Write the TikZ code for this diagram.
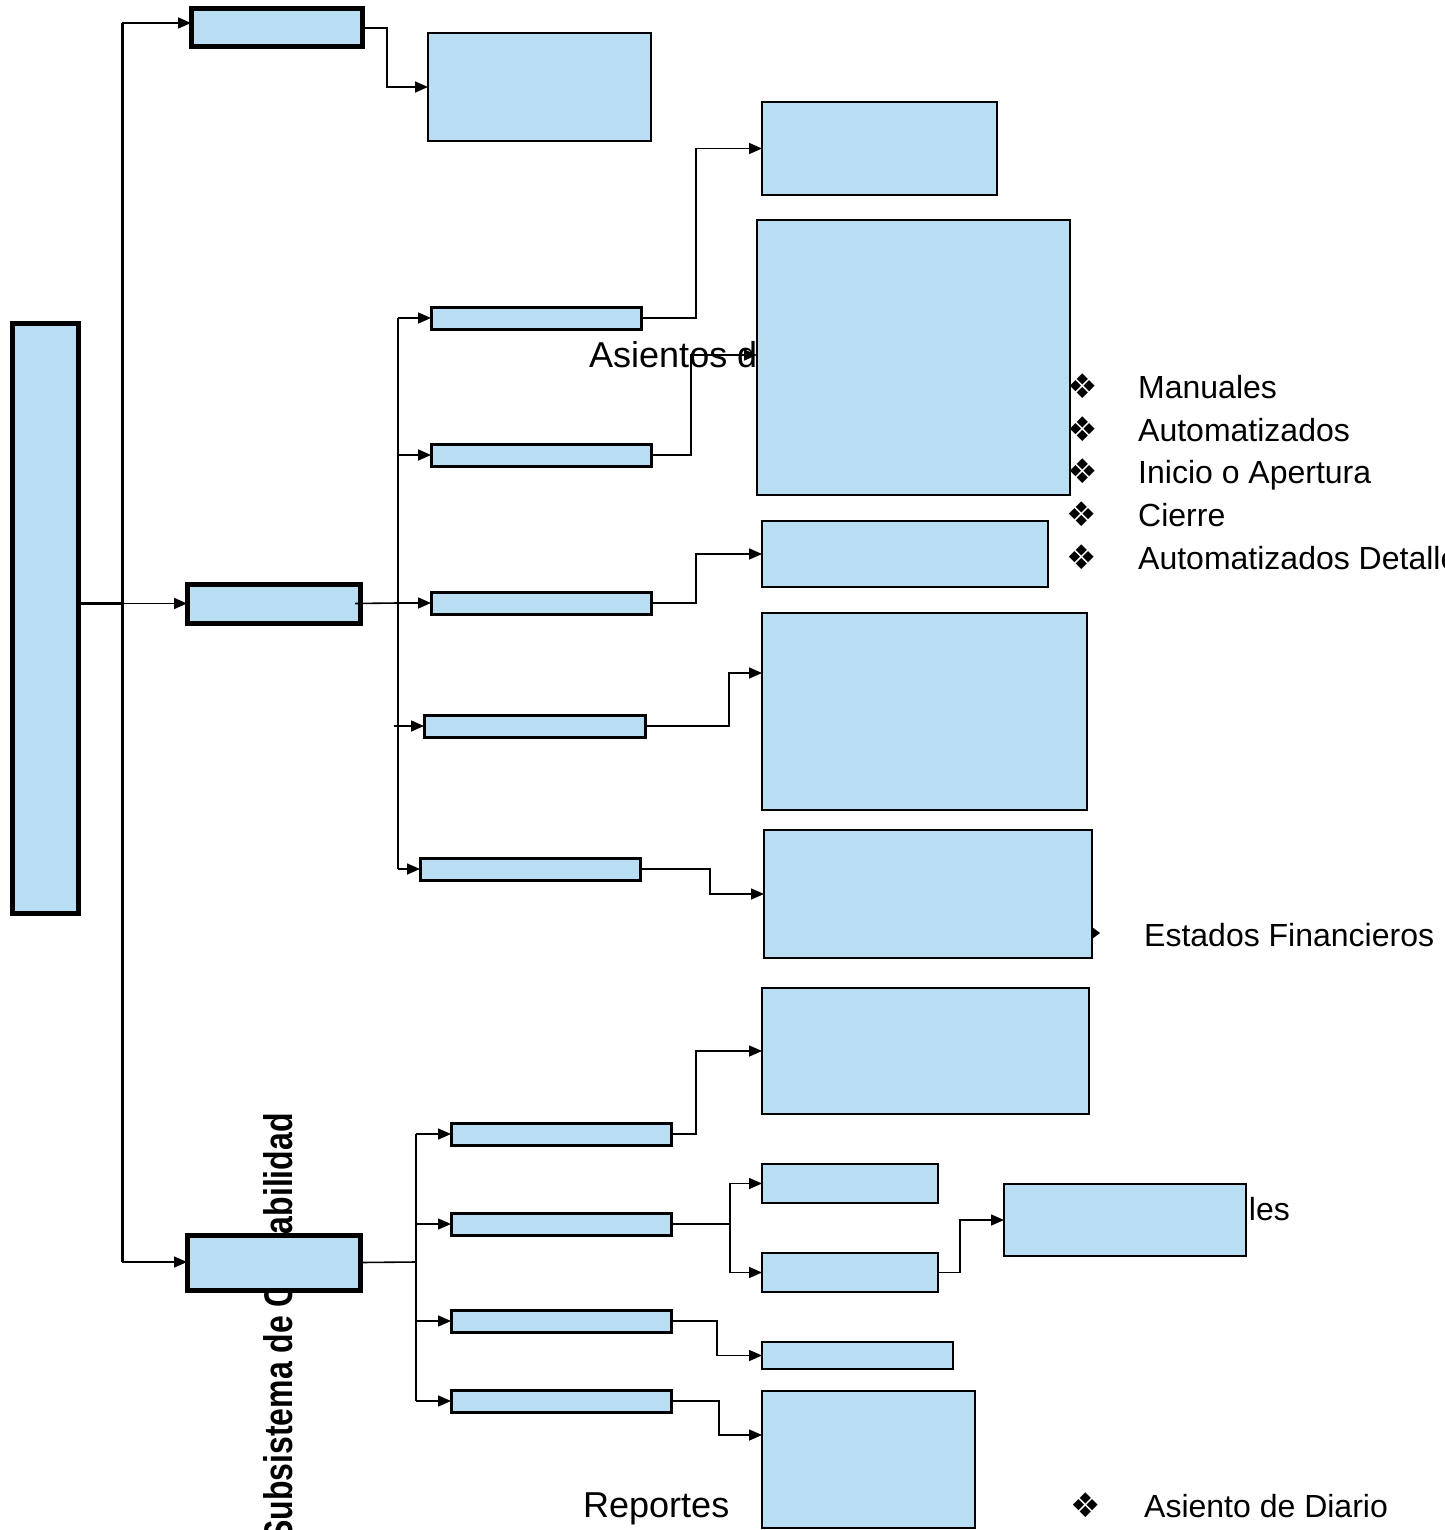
\documentclass[tikz,border=0pt]{standalone}
\usepackage{fontspec}
\setmainfont{Liberation Sans}
\newfontfamily\symfont{DejaVu Sans}
\usetikzlibrary{arrows.meta}
\definecolor{boxfill}{RGB}{185,222,243}
\begin{document}
\begin{tikzpicture}[x=1pt,y=-1pt,
  box/.style={draw=black, fill=boxfill, inner sep=0pt, outer sep=0pt},
  heavy/.style={box, line width=5pt},
  mid/.style={box, line width=3pt},
  light/.style={box, line width=2pt},
  conn/.style={line width=1.6pt},
  arr/.style={conn, -{Triangle[length=13pt,width=11pt]}},
  trunk/.style={line width=3pt},
  lbl/.style={inner sep=0pt, anchor=base west, font=\fontsize{32}{38}\selectfont},
  big/.style={lbl, font=\fontsize{36}{43}\selectfont},
  bul/.style={inner sep=0pt, font=\symfont\fontsize{34}{36}\selectfont}
]
\path[use as bounding box] (0,0) rectangle (1444,1530);
\clip (0,0) rectangle (1444,1530);

% labels lying behind the boxes
\node[big] (asd) at (589,367) {Asientos d};
\node[rotate=90, anchor=base west, inner sep=0pt,
      font=\fontsize{40}{48}\selectfont\bfseries] (sub) at (292,1542)
      {\scalebox{0.8}[1]{Subsistema de Contabilidad}};
\node[lbl, anchor=base east] (les) at (1290,1220) {les};
\node[big] (rep) at (583,1517) {Reportes};

% root and first level
\node[heavy, minimum width=66pt, minimum height=590pt] (root) at (45,618) {};
\node[heavy, minimum width=171pt, minimum height=38pt] (A) at (276.5,28) {};
\node[heavy, minimum width=173pt, minimum height=39pt] (B) at (273.5,603.5) {};
\node[heavy, minimum width=173pt, minimum height=55pt] (D) at (273.5,1262.5) {};

% second level
\node[light, minimum width=223pt, minimum height=108pt] (A1) at (539.5,87) {};
\node[mid, minimum width=210pt, minimum height=22pt] (B1) at (536,318) {};
\node[mid, minimum width=220pt, minimum height=22pt] (B2) at (541,455) {};
\node[mid, minimum width=220pt, minimum height=22pt] (B3) at (541,603) {};
\node[mid, minimum width=221pt, minimum height=22pt] (B4) at (534.5,726) {};
\node[mid, minimum width=220pt, minimum height=22pt] (B5) at (530,869) {};
\node[mid, minimum width=220pt, minimum height=22pt] (D1) at (561,1134) {};
\node[mid, minimum width=220pt, minimum height=22pt] (D2) at (561,1224) {};
\node[mid, minimum width=220pt, minimum height=22pt] (D3) at (561,1321) {};
\node[mid, minimum width=220pt, minimum height=22pt] (D4) at (561,1401) {};

% third level
\node[light, minimum width=235pt, minimum height=93pt] (C1) at (879.5,148.5) {};
\node[light, minimum width=313pt, minimum height=275pt] (C2) at (913.5,357.5) {};
\node[light, minimum width=286pt, minimum height=66pt] (C3) at (905,554) {};
\node[light, minimum width=325pt, minimum height=197pt] (C4) at (924.5,711.5) {};
\node[light, minimum width=328pt, minimum height=128pt] (C5) at (928,894) {};
\node[light, minimum width=327pt, minimum height=126pt] (E1) at (925.5,1051) {};
\node[light, minimum width=176pt, minimum height=39pt] (E2) at (850,1183.5) {};
\node[light, minimum width=176pt, minimum height=39pt] (E3) at (850,1272.5) {};
\node[light, minimum width=191pt, minimum height=27pt] (E4) at (857.5,1355.5) {};
\node[light, minimum width=213pt, minimum height=137pt] (E5) at (868.5,1459.5) {};
\node[light, minimum width=242pt, minimum height=72pt] (F) at (1125,1220) {};

% trunk from the root
\coordinate (tTop) at (122,23);
\coordinate (tBot) at (122,1262);
\draw[trunk] (tTop) -- (tBot);
\draw[arr] (tTop) -- (tTop -| A.west);
\draw[arr] (tBot) -- (tBot -| D.west);
\draw[trunk] (root.east |- B.west) -- (tBot |- B.west);
\draw[arr] (tBot |- B.west) -- (B.west);

% top branch
\draw[arr] (A.east) -- ++(25,0) |- (A1.west);

% middle branch
\coordinate (busB) at (398,603);
\draw[conn] ([xshift=-5pt]B.east) -- (busB);
\draw[conn] (busB |- B1.west) -- (busB |- B5.west);
\draw[arr] (busB |- B1.west) -- (B1.west);
\draw[arr] (busB |- B2.west) -- (B2.west);
\draw[arr] (busB |- B3.west) -- (B3.west);
\draw[arr] ([xshift=-4pt]busB |- B4.west) -- (B4.west);
\draw[arr] (busB |- B5.west) -- (B5.west);

\draw[arr] (B1.east) -- ++(55,0) |- (C1.west);
\draw[arr] (B2.east) -- ++(40,0) |- ([yshift=2.5pt]C2.west);
\draw[arr] (B3.east) -- ++(45,0) |- (C3.west);
\draw[arr] (B4.east) -- ++(84,0) |- ([yshift=38.5pt]C4.west);
\draw[arr] (B5.east) -- ++(70,0) |- (C5.west);

% bottom branch
\coordinate (busD) at (416,1262);
\draw[conn] (D.east) -- (busD);
\draw[conn] (busD |- D1.west) -- (busD |- D4.west);
\draw[arr] (busD |- D1.west) -- (D1.west);
\draw[arr] (busD |- D2.west) -- (D2.west);
\draw[arr] (busD |- D3.west) -- (D3.west);
\draw[arr] (busD |- D4.west) -- (D4.west);

\draw[arr] (D1.east) -- ++(25,0) |- (E1.west);
\draw[conn] (D2.east) -- ++(59,0) coordinate (jD2);
\draw[arr] (jD2) |- (E2.west);
\draw[arr] (jD2) |- (E3.west);
\draw[arr] (D3.east) -- ++(46,0) |- (E4.west);
\draw[arr] (D4.east) -- ++(48,0) |- ([yshift=24.5pt]E5.west);
\draw[arr] (E3.east) -- ++(22,0) |- (F.west);

% bullet list beside the large box
\node[bul] (b1) at (1083,386) {❖};
\node[bul] (b2) at (1083,429) {❖};
\node[bul] (b3) at (1083,471) {❖};
\node[bul] (b4) at (1082,514) {❖};
\node[bul] (b5) at (1082,557) {❖};
\node[lbl] (t1) at (1138,398) {Manuales};
\node[lbl] (t2) at (1138,441) {Automatizados};
\node[lbl] (t3) at (1138,483) {Inicio o Apertura};
\node[lbl] (t4) at (1138,526) {Cierre};
\node[lbl] (t5) at (1138,569) {Automatizados Detalle};

% arrow bullet and financial statements label
\fill (1092,927) -- (1100,933) -- (1092,939) -- cycle;
\node[lbl] (ef) at (1144,946) {Estados Financieros};

% journal entry label
\node[bul] (b6) at (1086,1505) {❖};
\node[lbl] (ad) at (1144,1517) {Asiento de Diario};
\end{tikzpicture}
\end{document}
